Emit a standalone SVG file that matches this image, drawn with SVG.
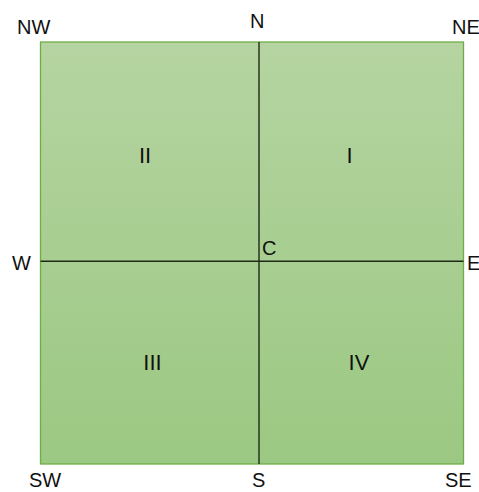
<svg xmlns="http://www.w3.org/2000/svg" width="479" height="492" viewBox="0 0 479 492">
<style>
.lbl{font-family:"Liberation Sans",Arial,sans-serif;font-size:20px;fill:#111}
.q{font-family:"Liberation Sans",Arial,sans-serif;font-size:22px;fill:#111;text-anchor:middle}
.ax{stroke:#1e2a18;stroke-width:1.4;fill:none}
</style>
<defs>
<linearGradient id="g" x1="0" y1="0" x2="0" y2="1">
<stop offset="0" stop-color="#b5d4a1"/>
<stop offset="1" stop-color="#9bc882"/>
</linearGradient>
</defs>
<rect width="479" height="492" fill="#fff"/>
<g id="square">
<rect x="40.5" y="42" width="423" height="422" fill="url(#g)" stroke="#6fae47" stroke-width="1.3"/>
</g>
<g id="connectors">
<line class="ax" x1="259" y1="42" x2="259" y2="464"/>
<line class="ax" x1="40.5" y1="261.3" x2="463.5" y2="261.3"/>
</g>
<g id="labels">
<text class="lbl" x="17" y="34">NW</text>
<text class="lbl" x="250" y="28">N</text>
<text class="lbl" x="452" y="34">NE</text>
<text class="lbl" x="12" y="270">W</text>
<text class="lbl" x="467" y="270">E</text>
<text class="lbl" x="262" y="255">C</text>
<text class="lbl" x="29" y="487">SW</text>
<text class="lbl" x="252" y="487">S</text>
<text class="lbl" x="445" y="487">SE</text>
</g>
<g id="quadrants">
<text class="q" x="145" y="163">II</text>
<text class="q" x="349.5" y="163">I</text>
<text class="q" x="152.5" y="370">III</text>
<text class="q" x="359" y="370">IV</text>
</g>
</svg>
